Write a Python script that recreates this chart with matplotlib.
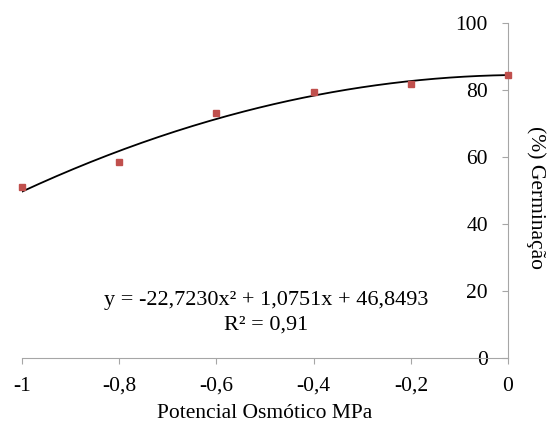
import matplotlib
matplotlib.use('Agg')
from matplotlib import pyplot as plt
from matplotlib.ticker import FuncFormatter
import numpy as np

plt.rcParams['font.family'] = ['Liberation Serif', 'DejaVu Serif']
plt.rcParams['axes.unicode_minus'] = False

# data
potencial = [-1.0, -0.8, -0.6, -0.4, -0.2, 0.0]
germinacao = [51.0, 58.6, 73.0, 79.4, 81.8, 84.5]
x_ticks = [-1.0, -0.8, -0.6, -0.4, -0.2, 0.0]
y_ticks = [0, 20, 40, 60, 80, 100]
equacao = "y = -22,7230x² + 1,0751x + 46,8493"
r2_text = "R² = 0,91"

# quadratic trendline from the points
coef = np.polyfit(potencial, germinacao, 2)
xx = np.linspace(-1, 0, 200)
yy = np.polyval(coef, xx)

fig = plt.figure(figsize=(5.51, 4.26), dpi=100)
ax = fig.add_axes([0.040, 0.1596, 0.882, 0.7864])

ax.plot(xx, yy, color='black', lw=1.3, zorder=2)
ax.plot(potencial, germinacao, 's', color='#C0504D', markersize=5, zorder=3, clip_on=False)

ax.set_xlim(-1, 0)
ax.set_ylim(0, 100)
ax.set_xticks(x_ticks)
ax.set_yticks(y_ticks)

def fmt(v, pos):
    s = ('%g' % round(v, 1)).replace('.', ',')
    return '0' if s in ('-0', '0') else s

ax.xaxis.set_major_formatter(FuncFormatter(fmt))
ax.yaxis.set_major_formatter(FuncFormatter(fmt))

# y axis crosses at x = 0 (right edge), labels on its left
ax.spines['top'].set_visible(False)
ax.spines['right'].set_visible(False)
ax.spines['left'].set_position(('data', 0))
ax.spines['left'].set_color('#A6A6A6')
ax.spines['bottom'].set_color('#A6A6A6')
ax.tick_params(axis='y', direction='out', length=4.5, color='#A6A6A6', labelsize=15.5, pad=10)
ax.tick_params(axis='x', direction='out', length=4.5, color='#A6A6A6', labelsize=15.5, pad=9)

ax.set_xlabel("Potencial Osmótico MPa", fontsize=15.5, labelpad=6)
ax.set_ylabel("(%) Germinação", fontsize=15.5, rotation=270, va='center')
ax.yaxis.set_label_coords(1.058, 0.478)

ax.text(-0.498, 17.3, equacao, fontsize=16, ha='center', va='center')
ax.text(-0.498, 9.9, r2_text, fontsize=16, ha='center', va='center')

plt.savefig('out.png', dpi=100)
